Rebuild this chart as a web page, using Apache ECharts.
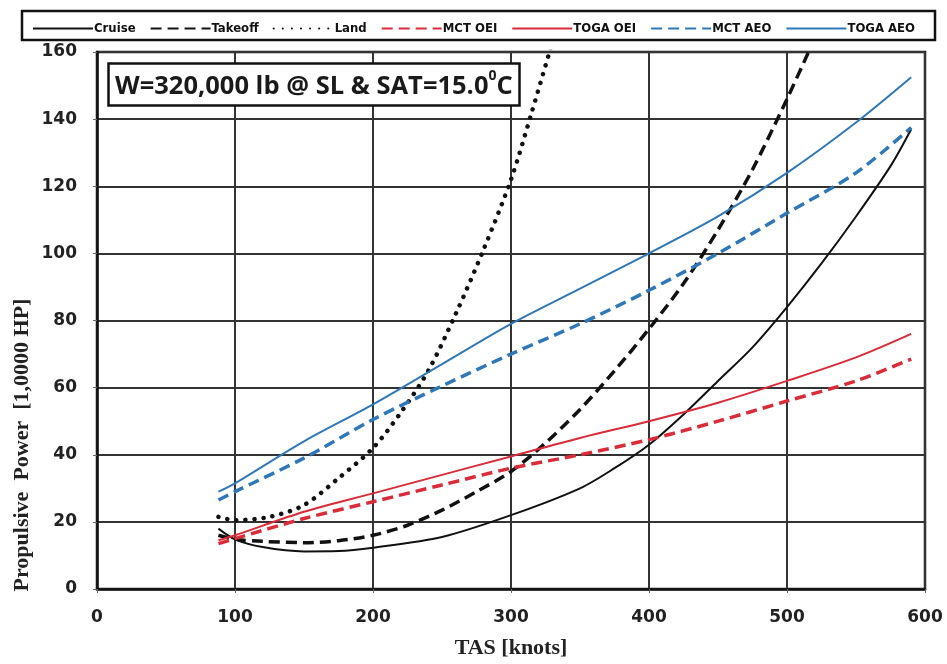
<!DOCTYPE html>
<html>
<head>
<meta charset="utf-8">
<script src="https://cdn.jsdelivr.net/npm/echarts@6/dist/echarts.min.js"></script>
<style>
html,body{margin:0;padding:0;background:#fff;}
#chart{width:947px;height:664px;}
</style>
</head>
<body>
<div id="chart"></div>
<script>
// ---- data (TAS in knots, power in 1,0000 HP) ----
const seriesNames = ['Cruise', 'Takeoff', 'Land', 'MCT OEI', 'TOGA OEI', 'MCT AEO', 'TOGA AEO'];
const xTicks = [0, 100, 200, 300, 400, 500, 600];
const yTicks = [0, 20, 40, 60, 80, 100, 120, 140, 160];

const cruiseTAS   = [88, 100, 120, 150, 175, 200, 250, 300, 350, 375, 400, 425, 450, 475, 500, 525, 550, 575, 590];
const cruisePower = [18, 14.8, 12.5, 11.2, 11.3, 12.3, 15.5, 22, 30, 36, 43, 52, 62, 72, 84, 97, 111, 126, 137];

const takeoffTAS   = [88, 100, 120, 150, 175, 200, 225, 250, 275, 300, 325, 350, 375, 400, 425, 450, 475, 500, 520];
const takeoffPower = [16, 14.8, 14.2, 13.8, 14.4, 16, 19, 23.5, 29, 35, 43.5, 53.5, 65, 77.5, 91, 107, 125, 146, 164];

const landTAS   = [88, 100, 125, 150, 175, 200, 220, 240, 260, 280, 300, 315, 330];
const landPower = [21.5, 20.5, 21.5, 25, 33, 42, 52.5, 65, 82, 101, 122, 142, 163];

const engineTAS    = [88, 100, 150, 200, 250, 300, 350, 400, 450, 500, 550, 590];
const mctOeiPower  = [13.5, 15, 21, 26, 31, 36, 40, 44.5, 50, 56, 62, 68.5];
const togaOeiPower = [14.5, 16, 23, 28.5, 34, 39.5, 45, 50, 55.5, 62, 69, 76];
const mctAeoPower  = [26.5, 29, 39, 50.5, 60.5, 70, 79, 89, 100, 112, 124, 137.5];
const togaAeoPower = [29, 31.5, 44, 55, 67, 79, 89.5, 100, 111, 124, 139, 152.5];

const pairs = (xs, ys) => xs.map((x, i) => [x, ys[i]]);

const RED = '#d92b38';
const BLUE = '#2f78b8';

function lineSeries(name, data, color, width, type, cap) {
  return {
    name: name, type: 'line', data: data, smooth: 0.3,
    symbol: 'none', showSymbol: false, clip: true,
    lineStyle: { color: color, width: width, type: type, cap: cap || 'butt' },
    itemStyle: { color: color },
    z: 3
  };
}

const chart = echarts.init(document.getElementById('chart'));
chart.setOption({
  backgroundColor: '#fff',
  animation: false,
  grid: { left: 97, right: 22, top: 52, bottom: 73, show: true, borderColor: '#111', borderWidth: 2.5 },
  title: {
    left: 108, top: 63,
    text: '{a|W=320,000 lb @ SL & SAT=15.0}{s|0}{a|C}',
    borderColor: '#111', borderWidth: 2.5, padding: [6, 7, 6, 7],
    backgroundColor: '#fff',
    textStyle: {
      rich: {
        a: { fontFamily: 'Open Sans', fontWeight: 'bold', fontSize: 25.5, color: '#1a1a1a', verticalAlign: 'bottom', lineHeight: 31 },
        s: { fontFamily: 'Open Sans', fontWeight: 'bold', fontSize: 14, color: '#1a1a1a', verticalAlign: 'top', lineHeight: 31, padding: [0, 0, 12, 0] }
      }
    }
  },
  legend: {
    data: seriesNames,
    top: 17, left: 'center',
    itemWidth: 60, itemHeight: 10, itemGap: 14,
    itemStyle: { opacity: 0 },
    textStyle: { fontFamily: 'DejaVu Sans Condensed', fontWeight: 'bold', fontSize: 13, color: '#111', padding: [0, 0, 0, -4] }
  },
  graphic: [
    { type: 'rect', shape: { x: 22, y: 11, width: 913, height: 29 }, style: { fill: 'none', stroke: '#111', lineWidth: 2.5 }, z: -1 },
    { type: 'text', x: 22, y: 445, rotation: Math.PI / 2,
      style: { text: 'Propulsive  Power  [1,0000 HP]', fontFamily: 'Liberation Serif', fontWeight: 'bold', fontSize: 22, fill: '#222', textAlign: 'center', textVerticalAlign: 'middle' } }
  ],
  xAxis: {
    type: 'value', min: 0, max: 600, interval: 100,
    name: 'TAS [knots]', nameLocation: 'middle', nameGap: 48,
    nameTextStyle: { fontFamily: 'Liberation Serif', fontWeight: 'bold', fontSize: 22, color: '#222' },
    axisLine: { show: true, lineStyle: { color: '#111', width: 2.5 } },
    axisTick: { show: true, inside: false, length: 4, lineStyle: { color: '#666', width: 1 } },
    axisLabel: { margin: 20, fontFamily: 'DejaVu Sans', fontWeight: 'bold', fontSize: 17, color: '#222',
      formatter: v => xTicks.includes(v) ? String(v) : '' },
    splitLine: { show: true, lineStyle: { color: '#333', width: 2 } }
  },
  yAxis: {
    type: 'value', min: 0, max: 160, interval: 20,
    axisLine: { show: true, lineStyle: { color: '#111', width: 2.5 } },
    axisTick: { show: true, inside: false, length: 4, lineStyle: { color: '#666', width: 1 } },
    axisLabel: { margin: 20, fontFamily: 'DejaVu Sans', fontWeight: 'bold', fontSize: 17, color: '#222',
      formatter: v => yTicks.includes(v) ? String(v) : '' },
    splitLine: { show: true, lineStyle: { color: '#333', width: 2 } }
  },
  series: [
    lineSeries('Cruise', pairs(cruiseTAS, cruisePower), '#111', 2, 'solid'),
    lineSeries('Takeoff', pairs(takeoffTAS, takeoffPower), '#111', 3.5, [11, 6]),
    lineSeries('Land', pairs(landTAS, landPower), '#111', 4.5, [0.1, 9], 'round'),
    lineSeries('MCT OEI', pairs(engineTAS, mctOeiPower), RED, 3.5, [11, 6]),
    lineSeries('TOGA OEI', pairs(engineTAS, togaOeiPower), RED, 2, 'solid'),
    lineSeries('MCT AEO', pairs(engineTAS, mctAeoPower), BLUE, 3.5, [11, 6]),
    lineSeries('TOGA AEO', pairs(engineTAS, togaAeoPower), BLUE, 2, 'solid')
  ]
});
</script>
</body>
</html>
